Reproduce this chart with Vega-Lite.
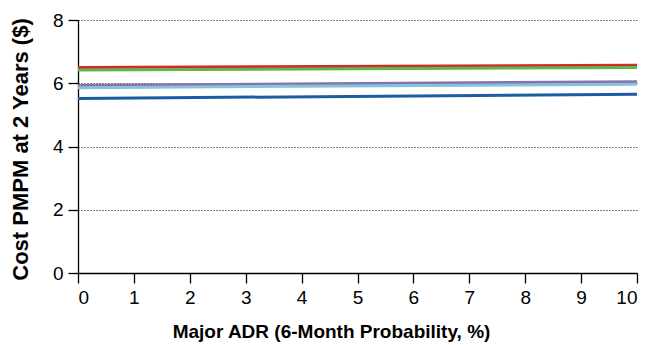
{
  "$schema": "https://vega.github.io/schema/vega-lite/v6.json",
  "width": 559,
  "height": 253,
  "autosize": "none",
  "padding": {"left": 78, "top": 20, "right": 11, "bottom": 72},
  "background": "white",
  "config": {
    "view": {"stroke": null},
    "font": "Liberation Sans",
    "axis": {
      "domainColor": "black",
      "domainWidth": 1.3,
      "tickColor": "black",
      "tickWidth": 1.3,
      "tickSize": 10,
      "labelFont": "Liberation Sans",
      "labelFontSize": 19,
      "labelColor": "black",
      "titleFont": "Liberation Sans",
      "titleFontWeight": "bold",
      "titleColor": "black"
    }
  },
  "data": {
    "values": [
      {"series": "A", "adr": 0, "cost": 6.50},
      {"series": "A", "adr": 10, "cost": 6.57},
      {"series": "B", "adr": 0, "cost": 6.42},
      {"series": "B", "adr": 10, "cost": 6.50},
      {"series": "C", "adr": 0, "cost": 5.93},
      {"series": "C", "adr": 10, "cost": 6.05},
      {"series": "D", "adr": 0, "cost": 5.86},
      {"series": "D", "adr": 10, "cost": 5.97},
      {"series": "E", "adr": 0, "cost": 5.52},
      {"series": "E", "adr": 10, "cost": 5.65}
    ]
  },
  "mark": {"type": "line", "strokeWidth": 3},
  "encoding": {
    "x": {
      "field": "adr",
      "type": "quantitative",
      "scale": {"domain": [0, 10], "nice": false},
      "axis": {
        "title": "Major ADR (6-Month Probability, %)",
        "titleFontSize": 19,
        "titleX": 253,
        "values": [0, 1, 2, 3, 4, 5, 6, 7, 8, 9, 10],
        "grid": false,
        "labelPadding": 5,
        "titlePadding": 15
      }
    },
    "y": {
      "field": "cost",
      "type": "quantitative",
      "scale": {"domain": [0, 8], "nice": false},
      "axis": {
        "title": "Cost PMPM at 2 Years ($)",
        "titleFontSize": 22,
        "titleY": 129,
        "values": [0, 2, 4, 6, 8],
        "grid": true,
        "gridColor": "black",
        "gridDash": [1, 2],
        "gridWidth": 1,
        "labelPadding": 5,
        "titlePadding": 20
      }
    },
    "color": {
      "field": "series",
      "type": "nominal",
      "scale": {
        "domain": ["A", "B", "C", "D", "E"],
        "range": ["#d42a2e", "#5cb84c", "#8a70ae", "#80c6d8", "#1b5ca3"]
      },
      "legend": null
    }
  }
}
